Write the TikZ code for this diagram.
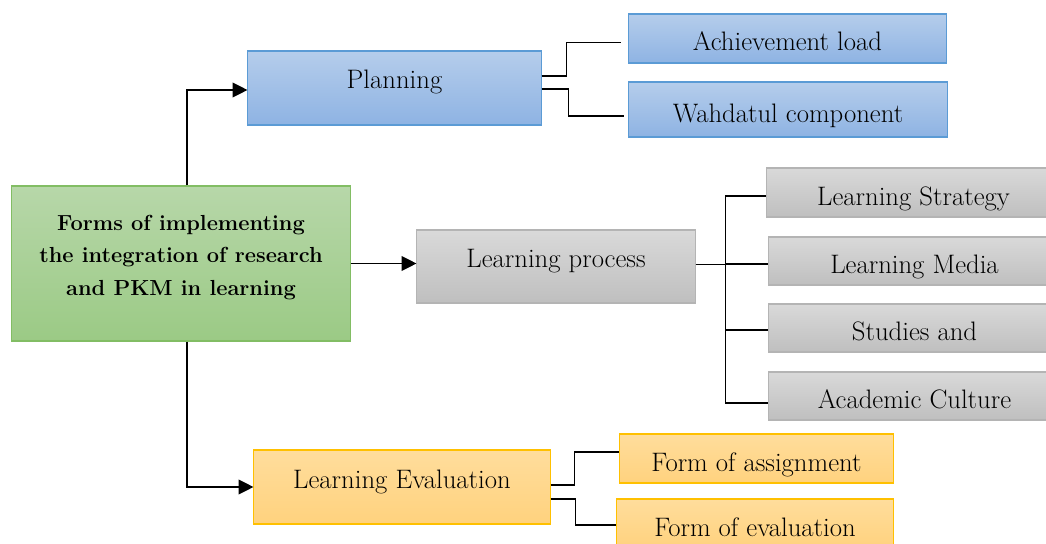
\documentclass[tikz,border=0pt]{standalone}
\usepackage{fontspec}
\usetikzlibrary{arrows.meta}

\definecolor{blueTop}{HTML}{B5CDEB}
\definecolor{blueBot}{HTML}{8EB3E3}
\definecolor{blueLine}{HTML}{5B9BD5}
\definecolor{greenTop}{HTML}{B7D7A9}
\definecolor{greenBot}{HTML}{9BCA85}
\definecolor{greenLine}{HTML}{82BD64}
\definecolor{greyTop}{HTML}{D9D9D9}
\definecolor{greyBot}{HTML}{BFBFBF}
\definecolor{greyLine}{HTML}{B4B4B4}
\definecolor{orangeTop}{HTML}{FFDD9C}
\definecolor{orangeBot}{HTML}{FFD27E}
\definecolor{orangeLine}{HTML}{FFC000}

\begin{document}
\begin{tikzpicture}[x=0.025cm,y=-0.025cm]
      \tikzset{
        box/.style={rectangle,draw,line width=0.75pt,inner sep=0pt,text depth=0pt,
                    font=\fontsize{19}{23}\selectfont},
        head/.style={box,text height=0.05cm},
        leaf/.style={box,text height=0.625cm},
        bluebox/.style={top color=blueTop,bottom color=blueBot,draw=blueLine},
        greenbox/.style={top color=greenTop,bottom color=greenBot,draw=greenLine},
        greybox/.style={top color=greyTop,bottom color=greyBot,draw=greyLine},
        orangebox/.style={top color=orangeTop,bottom color=orangeBot,draw=orangeLine},
        link/.style={line width=0.8pt},
        arr/.style={link,-{Triangle[length=10.5pt,width=10.5pt]}}
      }
      \useasboundingbox (0,0) rectangle (1046,544);

      \node[box,greenbox,align=center,minimum width=8.45cm,minimum height=3.875cm,
            text height=1.575cm,text depth=0pt,
            font=\bfseries\fontsize{15.5}{23}\selectfont] (main) at (181,263.5)
            {Forms of implementing\\the integration of research\\and PKM in learning};

      \node[head,bluebox,minimum width=7.325cm,minimum height=1.85cm] (plan) at (394.5,88) {Planning};
      \node[leaf,bluebox,minimum width=7.925cm,minimum height=1.225cm] (ach) at (787.5,38.5) {Achievement load};
      \node[leaf,bluebox,minimum width=7.95cm,minimum height=1.375cm] (wah) at (788,109.5) {Wahdatul component};

      \node[head,greybox,minimum width=6.95cm,minimum height=1.825cm] (proc) at (556,266.5) {Learning process};
      \node[leaf,greybox,minimum width=7.325cm,minimum height=1.225cm] (strat) at (913.5,192.5) {Learning Strategy};
      \node[leaf,greybox,minimum width=7.275cm,minimum height=1.2cm] (media) at (914.5,261) {Learning Media};
      \node[leaf,greybox,minimum width=7.275cm,minimum height=1.2cm] (stud) at (914.5,328) {Studies and};
      \node[leaf,greybox,minimum width=7.275cm,minimum height=1.2cm] (acad) at (914.5,396) {Academic Culture};

      \node[head,orangebox,minimum width=7.4cm,minimum height=1.85cm] (eval) at (402,487) {Learning Evaluation};
      \node[leaf,orangebox,minimum width=6.825cm,minimum height=1.225cm] (assign) at (756.5,458.5) {Form of assignment};
      \node[leaf,orangebox,minimum width=6.9cm,minimum height=1.225cm] (evalf) at (755,523.5) {Form of evaluation};

      % main box to the three stages
      \draw[arr] ([xshift=0.15cm]main.north) |- ([yshift=-0.05cm]plan.west);
      \draw[arr] (main.east) -- (main.east -| proc.west);
      \draw[arr] ([xshift=0.15cm]main.south) |- (eval.west);

      % stages to their parts
      \draw[link] ([yshift=0.3cm]plan.east) -- ++(25,0) |- ([xshift=-0.175cm,yshift=-0.1cm]ach.west)
            ([yshift=-0.025cm]plan.east) -- ++(27,0) |- ([xshift=-0.1cm,yshift=-0.1625cm]wah.west);
      \draw[link] ([yshift=0.06cm]proc.east) -- ++(30,0) |- ([yshift=-0.0875cm]strat.west)
            ([yshift=0.06cm]proc.east) -- ++(30,0) |- ([yshift=-0.075cm]media.west)
            ([yshift=0.06cm]proc.east) -- ++(30,0) |- ([yshift=-0.05cm]stud.west)
            ([yshift=0.06cm]proc.east) -- ++(30,0) |- ([yshift=-0.175cm]acad.west);
      \draw[link] ([yshift=0.05cm]eval.east) -- ++(24,0) |- ([yshift=0.1625cm]assign.west)
            ([yshift=-0.3cm]eval.east) -- ++(25,0) |- ([yshift=-0.0375cm]evalf.west);
\end{tikzpicture}
\end{document}
